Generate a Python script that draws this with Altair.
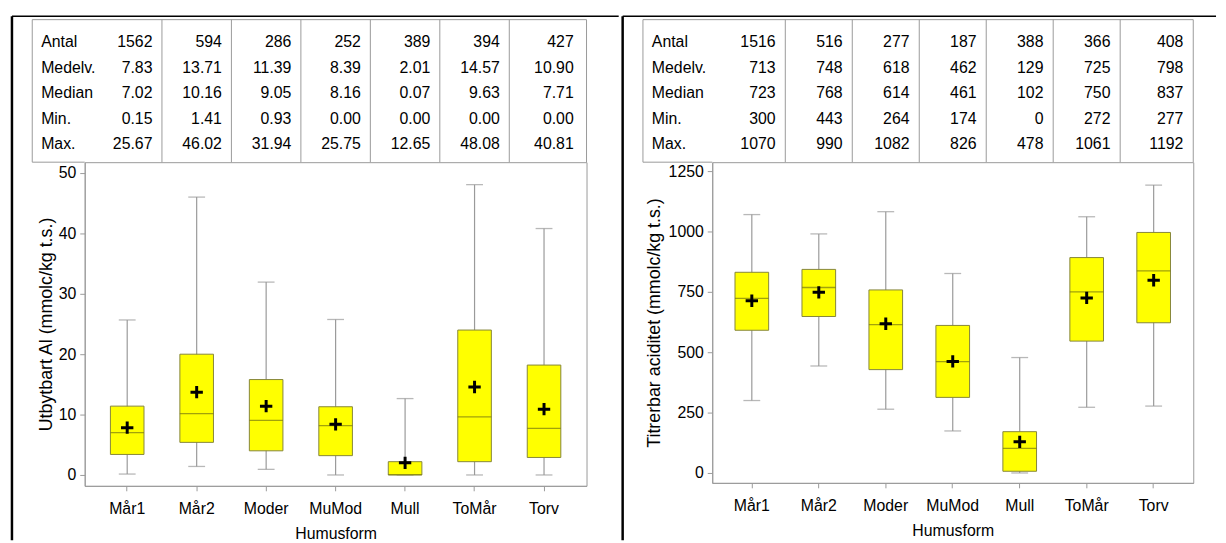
import altair as alt
import pandas as pd

cats = ["Mår1", "Mår2", "Moder", "MuMod", "Mull", "ToMår", "Torv"]
stats = ["Antal", "Medelv.", "Median", "Min.", "Max."]

# Left panel: Utbytbart Al
al_n = [1562, 594, 286, 252, 389, 394, 427]
al_mean = [7.83, 13.71, 11.39, 8.39, 2.01, 14.57, 10.90]
al_median = [7.02, 10.16, 9.05, 8.16, 0.07, 9.63, 7.71]
al_min = [0.15, 1.41, 0.93, 0.00, 0.00, 0.00, 0.00]
al_max = [25.67, 46.02, 31.94, 25.75, 12.65, 48.08, 40.81]
al_q1 = [3.4, 5.4, 4.0, 3.2, 0.0, 2.2, 2.9]
al_q3 = [11.4, 20.0, 15.8, 11.3, 2.2, 24.0, 18.2]

# Right panel: Titrerbar aciditet
ta_n = [1516, 516, 277, 187, 388, 366, 408]
ta_mean = [713, 748, 618, 462, 129, 725, 798]
ta_median = [723, 768, 614, 461, 102, 750, 837]
ta_min = [300, 443, 264, 174, 0, 272, 277]
ta_max = [1070, 990, 1082, 826, 478, 1061, 1192]
ta_q1 = [591, 648, 428, 313, 7, 546, 622]
ta_q3 = [831, 843, 758, 611, 171, 892, 996]

FONT = "Liberation Sans"
GRAY = "#9a9a9a"
dummy = pd.DataFrame({"d": [0]})


def hline(x1, x2, y, color, sw):
    return alt.Chart(dummy).mark_rule(color=color, strokeWidth=sw).encode(
        x=alt.value(x1), x2=alt.value(x2), y=alt.value(y))


def vline(x, y1, y2, color, sw):
    return alt.Chart(dummy).mark_rule(color=color, strokeWidth=sw).encode(
        x=alt.value(x), y=alt.value(y1), y2=alt.value(y2))


def make_panel(n, mean, median, vmin, vmax, q1, q3, decimals, ytitle, ydomain,
               yticks, width, height, p_in, p_out, val_dx, last_dx, table_left,
               label_x, black_x, black_w, top_x2, title_pad):
    step = width / (len(cats) - p_in + 2 * p_out)
    bw = step * (1 - p_in)
    box = pd.DataFrame({"Humusform": cats, "mean": mean, "median": median,
                        "min": vmin, "max": vmax, "q1": q1, "q3": q3})
    xenc = alt.X("Humusform:N", sort=cats,
                 scale=alt.Scale(type="band", paddingInner=p_in, paddingOuter=p_out),
                 axis=alt.Axis(title="Humusform", labelAngle=0, tickSize=5,
                               labelPadding=10, titlePadding=9))
    yscale = alt.Scale(domain=ydomain, nice=False, zero=False)
    yaxis = alt.Axis(values=yticks, format="d", tickSize=5, labelPadding=4,
                     titlePadding=title_pad, titleFontSize=18)

    def Y(field):
        return alt.Y(field, scale=yscale, axis=yaxis, title=ytitle)

    base = alt.Chart(box)
    whisk = base.mark_rule(color=GRAY, strokeWidth=1.2).encode(
        x=xenc, y=Y("min:Q"), y2="max:Q")
    cap_lo = base.mark_tick(color=GRAY, thickness=1.3, size=17).encode(x=xenc, y=Y("min:Q"))
    cap_hi = base.mark_tick(color=GRAY, thickness=1.3, size=17).encode(x=xenc, y=Y("max:Q"))
    boxes = base.mark_bar(fill="#ffff00", stroke="#86863a", strokeWidth=1).encode(
        x=xenc, y=Y("q1:Q"), y2="q3:Q")
    med = base.mark_tick(color="#7a7a10", thickness=1.3, size=bw).encode(
        x=xenc, y=Y("median:Q"))
    mn = base.mark_point(shape="M-1,0L1,0M0,-1L0,1", size=156, stroke="black",
                         strokeWidth=3, filled=False, opacity=1).encode(
        x=xenc, y=Y("mean:Q"))
    plot = alt.layer(whisk, cap_lo, cap_hi, boxes, med, mn)

    # table
    rows = []
    cols = [n, mean, median, vmin, vmax]
    for s, vals in zip(stats, cols):
        for c, v in zip(cats, vals):
            if s == "Antal":
                t = f"{int(v)}"
            else:
                t = f"{v:.{decimals}f}"
            rows.append({"stat": s, "Humusform": c, "txt": t})
    tab = pd.DataFrame(rows)
    ytab = alt.Y("stat:N", sort=stats,
                 scale=alt.Scale(type="point", range=[-121, -18], padding=0),
                 axis=None)
    vals_main = alt.Chart(tab[tab["Humusform"] != cats[-1]]).mark_text(
        align="right", baseline="middle", dx=val_dx, fontSize=16, font=FONT,
        color="black").encode(x=xenc, y=ytab, text="txt:N")
    vals_last = alt.Chart(tab[tab["Humusform"] == cats[-1]]).mark_text(
        align="right", baseline="middle", dx=last_dx, fontSize=16, font=FONT,
        color="black").encode(x=xenc, y=ytab, text="txt:N")
    labels = alt.Chart(pd.DataFrame({"stat": stats})).mark_text(
        align="left", baseline="middle", fontSize=16, font=FONT, color="black"
    ).encode(x=alt.value(label_x), y=ytab, text="stat:N")
    seps = alt.Chart(pd.DataFrame({"Humusform": cats[1:]})).mark_rule(
        color=GRAY, strokeWidth=1, xOffset=-step / 2).encode(
        x=xenc, y=alt.value(-144), y2=alt.value(0))
    borders = [
        hline(table_left, width, -144, GRAY, 1),
        hline(table_left, 0, 0, GRAY, 1),
        vline(table_left, -144, 0, GRAY, 1),
        vline(width, -144, 0, GRAY, 1),
        hline(black_x, top_x2, -147.5, "black", 1.5),
        vline(black_x, -147.5, 382, "black", black_w),
    ]
    table = alt.layer(seps, *borders, labels, vals_main, vals_last)

    return alt.layer(plot, table).resolve_scale(y="independent").properties(
        width=width, height=height)


left = make_panel(al_n, al_mean, al_median, al_min, al_max, al_q1, al_q3, 2,
                  "Utbytbart Al (mmolc/kg t.s.)", [-1.8, 51.8],
                  [0, 10, 20, 30, 40, 50], 507, 327, 0.5166, 0.37, 25.5, 30,
                  -53, -44, -73.5, 2.5, 539.5, 3)
right = make_panel(ta_n, ta_mean, ta_median, ta_min, ta_max, ta_q1, ta_q3, 0,
                   "Titrerbar aciditet (mmolc/kg t.s.)", [-41, 1287],
                   [0, 250, 500, 750, 1000, 1250], 486, 324, 0.4976, 0.34, 24, 30,
                   -70, -61, -90.5, 2.5, 509, 5)

chart = alt.hconcat(left, right, spacing=0).properties(
    padding={"left": 1.5, "top": 3, "right": 0, "bottom": 0}
).configure_view(stroke=GRAY, strokeWidth=1).configure_axis(
    domainColor=GRAY, tickColor=GRAY, labelColor="black", titleColor="black",
    labelFont=FONT, titleFont=FONT, labelFontSize=16, titleFontSize=16,
    titleFontWeight="normal", grid=False, domainWidth=1, tickWidth=1
)

chart.save("out.html", embed_options={"renderer": "svg", "actions": False})
